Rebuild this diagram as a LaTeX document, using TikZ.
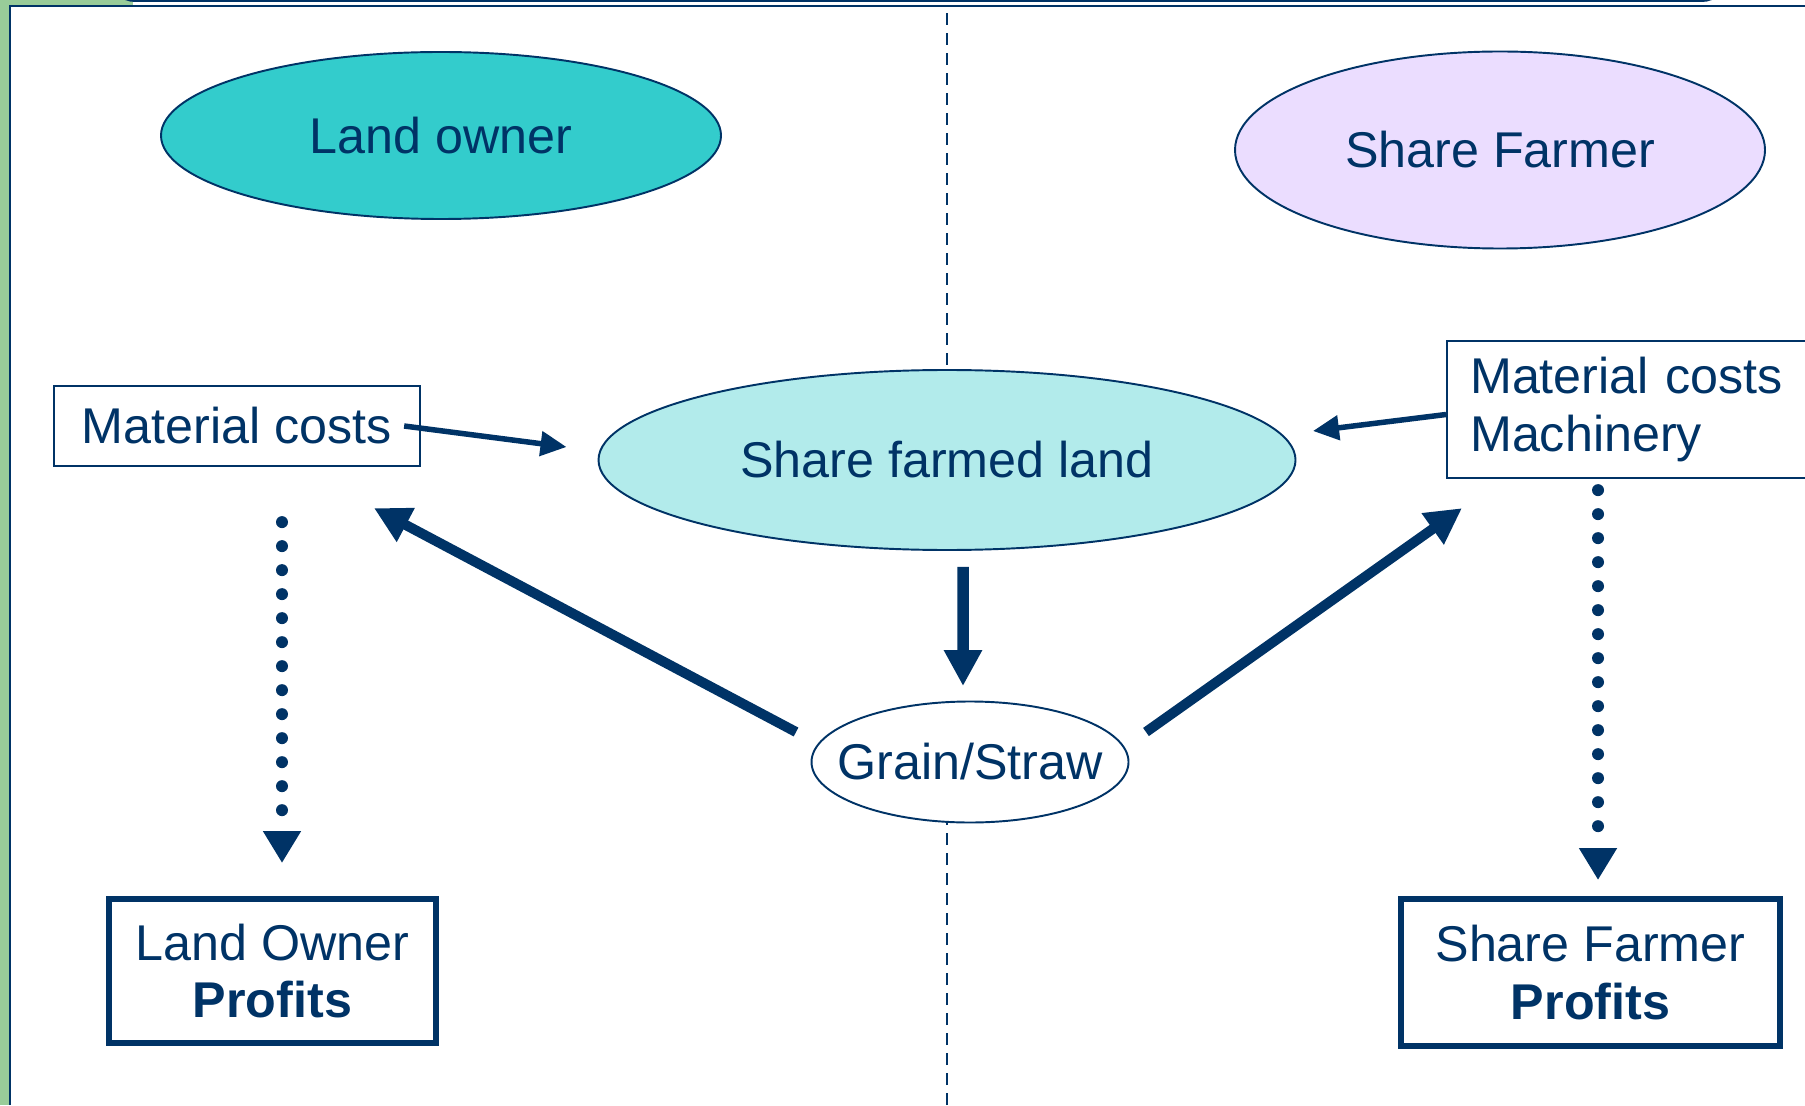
\documentclass[tikz,border=0pt]{standalone}
\usepackage{fontspec}
\setmainfont{Liberation Sans}
\usetikzlibrary{arrows.meta,shapes.geometric}
\definecolor{navy}{HTML}{003366}
\definecolor{ownerTeal}{HTML}{33CCCC}
\definecolor{farmerLilac}{HTML}{EBDDFF}
\definecolor{landCyan}{HTML}{B2EBEB}
\definecolor{slideGreen}{HTML}{99CC99}
\tikzset{%
  % Specifications for style of nodes:
          base/.style = {draw=navy, text=navy, align=center, inner sep=0pt,
                         font=\fontsize{14.3}{16.4}\selectfont},
         party/.style = {base, ellipse, line width=0.55pt},
          cost/.style = {base, rectangle, line width=0.65pt},
        profit/.style = {base, rectangle, line width=1.7pt},
  % Specifications for style of lines:
       divider/.style = {navy, line width=0.4pt, dash pattern=on 1.2mm off 0.8mm},
      bigarrow/.style = {-{Triangle[width=0.36cm,length=0.36cm]}, navy,
                         line width=0.10cm},
    smallarrow/.style = {-{Triangle[width=0.24cm,length=0.26cm]}, navy,
                         line width=0.055cm},
      dotarrow/.style = {-{Triangle[width=0.36cm,length=0.32cm]}, navy,
                         line width=0.12cm, line cap=round,
                         dash pattern=on 0pt off 0.24cm},
}
\begin{document}
\begin{tikzpicture}
\useasboundingbox (0,0) rectangle (18.05,11.05);
\clip (0,0) rectangle (18.05,11.05);

% slide frame
\fill[slideGreen] (0,0) rectangle (0.09,11.05);
\fill[slideGreen] (0,10.99) rectangle (1.33,11.05);
\fill[navy, rounded corners=0.25cm] (1.10,11.03) rectangle (17.27,11.6);
\draw[navy, line width=0.02cm] (0.10,0) -- (0.10,10.985) -- (18.05,10.985);

% divider, hidden behind the two middle ellipses
\draw[divider] (9.47,0) -- (9.47,3.2);
\draw[divider] (9.47,7.0) -- (9.47,10.985);

\node (Owner)  [party, fill=ownerTeal, minimum width=5.60cm, minimum height=1.67cm]
               at (4.41,9.695) {Land owner};

\node (Farmer) [party, fill=farmerLilac, minimum width=5.30cm, minimum height=1.97cm]
               at (15.00,9.55) {Share Farmer};

\node (Land)   [party, fill=landCyan, minimum width=6.97cm, minimum height=1.80cm]
               at (9.47,6.45) {Share farmed land};

\node (Grain)  [party, fill=white, minimum width=3.17cm, minimum height=1.21cm]
               at (9.70,3.43) {\makebox[0pt]{Grain/Straw}};

\node (MatL)   [cost, fill=white, minimum width=3.66cm, minimum height=0.80cm]
               at (2.37,6.79) {Material costs};

\node (MatR)   [cost, fill=white, anchor=west, align=left, inner xsep=0.23cm,
                text width=3.6cm, minimum height=1.37cm]
               at (14.46,6.955) {Material costs\\Machinery};

\node (ProfL)  [profit, fill=white, minimum width=3.27cm, minimum height=1.44cm]
               at (2.725,1.34) {Land Owner\\\textbf{Profits}};

\node (ProfR)  [profit, fill=white, minimum width=3.79cm, minimum height=1.47cm]
               at (15.905,1.325) {Share Farmer\\\textbf{Profits}};

\draw[smallarrow] ([xshift=-0.17cm]MatL.east) -- ([shift={(-0.31,0.13)}]Land.west);
\draw[smallarrow] ([yshift=-0.05cm]MatR.west) -- ([shift={(0.165,0.29)}]Land.east);
\draw[bigarrow, line width=0.115cm]
                  ([shift={(0.16,-0.16)}]Land.south) -- ([shift={(-0.07,0.145)}]Grain.north);
\draw[bigarrow]   ([shift={(-0.145,0.30)}]Grain.west) -- ([shift={(1.37,-0.41)}]MatL.south);
\draw[bigarrow]   ([shift={(0.165,0.30)}]Grain.east) -- ([shift={(0.16,-0.29)}]MatR.south west);
\draw[dotarrow]   ([shift={(0.45,-0.55)}]MatL.south) -- ([shift={(0.095,0.33)}]ProfL.north);
\draw[dotarrow]   ([shift={(1.52,-0.11)}]MatR.south west) -- ([shift={(0.075,0.16)}]ProfR.north);
\end{tikzpicture}
\end{document}
